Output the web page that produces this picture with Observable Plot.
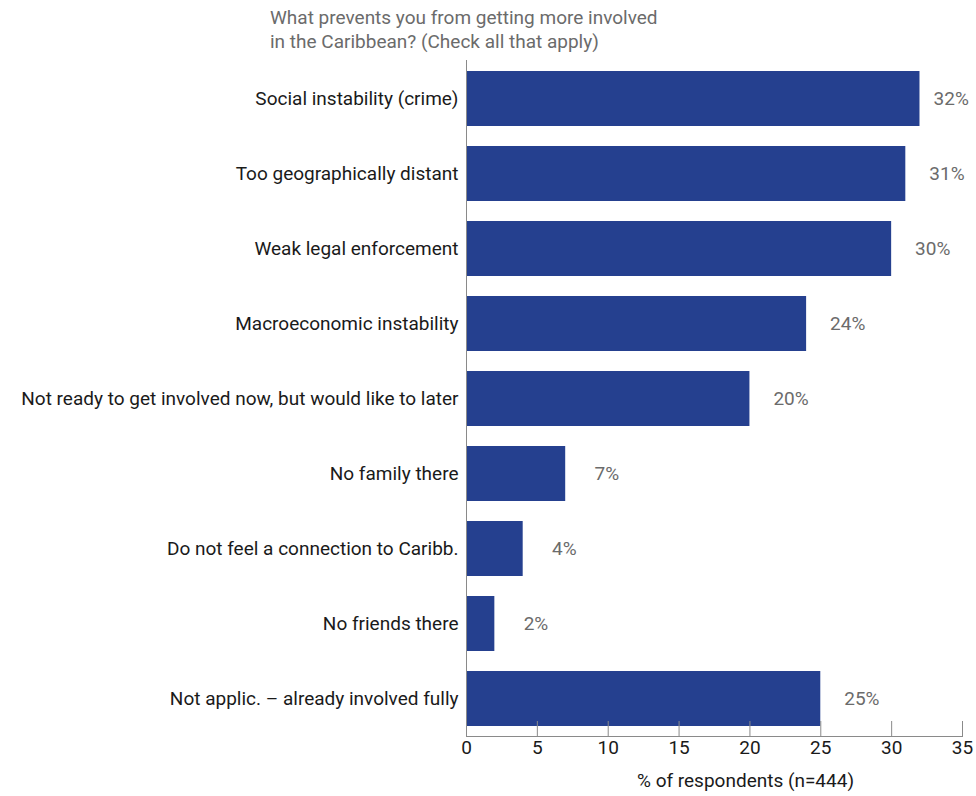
<!DOCTYPE html>
<html>
<head>
<meta charset="utf-8">
<script src="https://cdn.jsdelivr.net/npm/d3@7"></script>
<script src="https://cdn.jsdelivr.net/npm/@observablehq/plot@0.6"></script>
<style>
  body { margin: 0; background: #fff; font-family: Roboto, "DejaVu Sans", sans-serif; }
  #wrap { position: relative; width: 976px; height: 796px; }
  #title { position: absolute; left: 270px; top: 6px; font-size: 19px; line-height: 24px; color: #6b6b6b; }
  #chart { position: absolute; left: 0; top: 0; }
</style>
</head>
<body>
<div id="wrap">
  <div id="chart"></div>
  <div id="title">What prevents you from getting more involved<br>in the Caribbean? (Check all that apply)</div>
</div>
<script>
const categories = [
  "Social instability (crime)",
  "Too geographically distant",
  "Weak legal enforcement",
  "Macroeconomic instability",
  "Not ready to get involved now, but would like to later",
  "No family there",
  "Do not feel a connection to Caribb.",
  "No friends there",
  "Not applic. – already involved fully"
];
const values = [32, 31, 30, 24, 20, 7, 4, 2, 25];
const xTicks = [0, 5, 10, 15, 20, 25, 30, 35];
const xLabel = "% of respondents (n=444)";

const data = categories.map((c, i) => ({category: c, value: values[i]}));

const chart = Plot.plot({
  width: 976,
  height: 796,
  marginTop: 60,
  marginBottom: 60,
  marginLeft: 466,
  marginRight: 14,
  style: {fontFamily: "Roboto, 'DejaVu Sans', sans-serif", fontSize: "19px", background: "transparent"},
  x: {domain: [0, 35]},
  y: {domain: categories, paddingInner: 0.268, paddingOuter: 0.133},
  marks: [
    Plot.barX(data, {y: "category", x: "value", fill: "#25408f"}),
    Plot.text(data, {
      y: "category",
      x: d => Math.min(d.value + 2.9, 34.2),
      text: d => d.value + "%",
      textAnchor: "middle",
      fill: "#6b6b6b",
      fontSize: 19
    }),
    Plot.axisY({tickSize: 0, tickPadding: 8, label: null, fontSize: 19, color: "#1a1a1a"}),
    Plot.axisX({ticks: xTicks, tickSize: 0, tickPadding: 4, label: null, fontSize: 19, color: "#1a1a1a"}),
    Plot.axisX({ticks: xTicks, tickSize: -15, tickFormat: () => "", label: null, stroke: "#8a8a8a"}),
    Plot.ruleX([0], {stroke: "#8a8a8a"}),
    Plot.frame({anchor: "bottom", stroke: "#8a8a8a"}),
    Plot.text([xLabel], {frameAnchor: "bottom", dx: 31, dy: 50, fill: "#1a1a1a", fontSize: 19})
  ]
});
document.getElementById("chart").appendChild(chart);
</script>
</body>
</html>
